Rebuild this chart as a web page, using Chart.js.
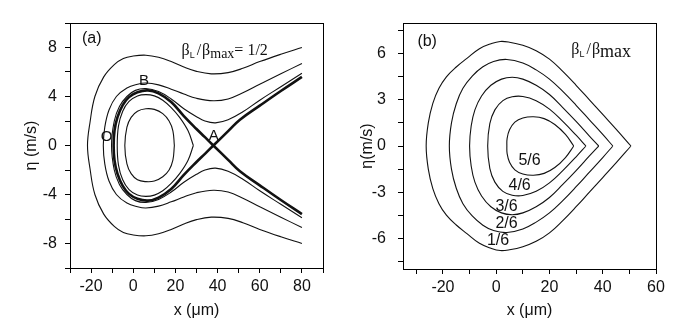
<!DOCTYPE html>
<html><head><meta charset="utf-8">
<script src="https://cdn.jsdelivr.net/npm/chart.js@4.4.1/dist/chart.umd.min.js"></script>
<style>
body{margin:0;background:#fff}
#wrap{position:relative;width:688px;height:335px;background:#fff}
canvas{position:absolute;top:0}
</style></head>
<body><div id="wrap">
<canvas id="ca" width="344" height="335" style="left:0;width:344px;height:335px"></canvas>
<canvas id="cb" width="344" height="335" style="left:344px;width:344px;height:335px"></canvas>
</div>
<script>
// ---------- Panel (a) data : [x (um), eta (m/s)] ----------
const aOuter = [[80,8.0],[70,7.45],[60,6.85],[52,6.3],[45,5.95],[37,5.85],[30,6.05],[24,6.4],[18,6.85],[12,7.2],[6,7.37],[0,7.3],[-4.7,7.1],[-9,6.6],[-14,5.6],[-18.2,4.0],[-20.5,1.9],[-21.7,0],
  [-20.5,-1.9],[-18.2,-4.0],[-14,-5.6],[-9,-6.6],[-4.7,-7.1],[0,-7.3],[6,-7.37],[12,-7.2],[18,-6.85],[24,-6.4],[30,-6.05],[37,-5.85],[45,-5.95],[52,-6.3],[60,-6.85],[70,-7.45],[80,-8.0]];
const aSecond = [[80,6.7],[70,5.85],[60,5.0],[52,4.3],[45,3.8],[38,3.65],[30,3.85],[24,4.2],[18,4.6],[12,4.95],[6,5.1],[2,5.0],[-3,4.7],[-8,4.0],[-11.5,2.9],[-13.5,1.5],[-14.2,0],
  [-13.5,-1.5],[-11.5,-2.9],[-8,-4.0],[-3,-4.7],[2,-5.0],[6,-5.1],[12,-4.95],[18,-4.6],[24,-4.2],[30,-3.85],[38,-3.65],[45,-3.8],[52,-4.3],[60,-5.0],[70,-5.85],[80,-6.7]];
const aThird = [[80,5.9],[70,4.8],[60,3.7],[52,2.75],[45,2.1],[39,1.85],[34,2.0],[30,2.35],[24,3.0],[18,3.8],[12,4.4],[6,4.65],[1,4.5],[-3,4.0],[-6.5,3.2],[-9,2.0],[-10.3,0],
  [-9,-2.0],[-6.5,-3.2],[-3,-4.0],[1,-4.5],[6,-4.65],[12,-4.4],[18,-3.8],[24,-3.0],[30,-2.35],[34,-2.0],[39,-1.85],[45,-2.1],[52,-2.75],[60,-3.7],[70,-4.8],[80,-5.9]];
const aSeparatrix = [[80,-5.6],[70,-4.45],[60,-3.25],[50.6,-2.1],[45,-1.17],[38,0],[34,0.68],[30,1.35],[24,2.4],[18,3.55],[12,4.25],[7,4.5],[2,4.35],[-2,3.95],[-5,3.3],[-7.5,2.3],[-8.9,1.2],[-9.3,0],
  [-8.9,-1.2],[-7.5,-2.3],[-5,-3.3],[-2,-3.95],[2,-4.35],[7,-4.5],[12,-4.25],[18,-3.55],[24,-2.4],[30,-1.35],[34,-0.68],[38,0],[45,1.17],[50.6,2.1],[60,3.25],[70,4.45],[80,5.6]];
const aClosed1 = [[28.5,0],[26,1.2],[22,2.3],[18,3.1],[14,3.7],[10,4.05],[6,4.15],[2,4.05],[-2,3.6],[-5,2.8],[-7,1.6],[-7.6,0],
  [-7,-1.6],[-5,-2.8],[-2,-3.6],[2,-4.05],[6,-4.15],[10,-4.05],[14,-3.7],[18,-3.1],[22,-2.3],[26,-1.2],[28.5,0]];
const aClosed2 = [[19.5,0],[18.8,1.2],[17,2.0],[14,2.6],[10,2.95],[6,3.0],[2,2.8],[-1,2.3],[-3,1.5],[-4,0],
  [-3,-1.5],[-1,-2.3],[2,-2.8],[6,-2.95],[10,-2.9],[14,-2.55],[17,-2.0],[18.8,-1.2],[19.5,0]];

const xTicksA = [-30,-20,-10,0,10,20,30,40,50,60,70,80,90];
const xLabelsA = [-20,0,20,40,60,80];
const yTicksA = [-10,-8,-6,-4,-2,0,2,4,6,8,10];
const yLabelsA = [-8,-4,0,4,8];

// ---------- Panel (b) data ----------
const b16 = [[50.6,0],[45,1.1],[40,2.05],[35,3.0],[30,3.95],[25,4.85],[20,5.65],[15,6.2],[10,6.55],[5,6.75],[1.5,6.8],[-2,6.65],[-6.3,6.33],[-11,5.7],[-15,5.14],[-18.7,4.5],[-21.5,3.75],[-23.8,2.77],[-25.5,1.5],[-26.3,0],
  [-25.5,-1.5],[-23.8,-2.77],[-21.5,-3.75],[-18.7,-4.5],[-15,-5.14],[-11,-5.7],[-6.3,-6.33],[-2,-6.65],[1.5,-6.8],[5,-6.75],[10,-6.55],[15,-6.2],[20,-5.65],[25,-4.85],[30,-3.95],[35,-3.0],[40,-2.05],[45,-1.1],[50.6,0]];
const b26 = [[43.8,0],[40,0.75],[35,1.7],[30,2.65],[25,3.55],[20,4.35],[15,4.95],[10,5.4],[4,5.63],[-1,5.5],[-5,5.15],[-9,4.55],[-12.5,3.75],[-15,2.75],[-16.8,1.5],[-17.6,0],
  [-16.8,-1.5],[-15,-2.75],[-12.5,-3.75],[-9,-4.55],[-5,-5.15],[-1,-5.5],[4,-5.63],[10,-5.4],[15,-4.95],[20,-4.35],[25,-3.55],[30,-2.65],[35,-1.7],[40,-0.75],[43.8,0]];
const b36 = [[38.5,0],[35,0.65],[30,1.6],[25,2.5],[20,3.35],[15,3.95],[10,4.35],[6,4.47],[2,4.35],[-2,3.95],[-5.5,3.25],[-8,2.35],[-9.4,1.3],[-10,0],
  [-9.4,-1.3],[-8,-2.35],[-5.5,-3.25],[-2,-3.95],[2,-4.35],[6,-4.47],[10,-4.35],[15,-3.95],[20,-3.35],[25,-2.5],[30,-1.6],[35,-0.65],[38.5,0]];
const b46 = [[33.7,0],[30,0.7],[25,1.6],[20,2.4],[15,2.95],[10,3.22],[6,3.2],[2.5,2.95],[-0.5,2.35],[-2.4,1.45],[-3.2,0],
  [-2.4,-1.45],[-0.5,-2.35],[2.5,-2.95],[6,-3.2],[10,-3.22],[15,-2.95],[20,-2.4],[25,-1.6],[30,-0.7],[33.7,0]];
const b56 = [[29.1,0],[26,0.75],[22,1.4],[18,1.78],[14,1.9],[10,1.82],[7,1.55],[5,1.05],[4.1,0.5],[4.0,0],
  [4.1,-0.5],[5,-1.05],[7,-1.55],[10,-1.82],[14,-1.9],[18,-1.78],[22,-1.4],[26,-0.75],[29.1,0]];
const bLevels = ['1/6','2/6','3/6','4/6','5/6'];

const xTicksB = [-30,-20,-10,0,10,20,30,40,50,60];
const xLabelsB = [-20,0,20,40,60];
const yTicksB = [-7.5,-6,-4.5,-3,-1.5,0,1.5,3,4.5,6,7.5];
const yLabelsB = [-6,-3,0,3,6];

// ---------- helpers ----------
const SANS = '"Liberation Sans", Arial, sans-serif';
const SERIF = '"Liberation Serif", "Times New Roman", serif';
const toPts = arr => arr.map(([x,y]) => ({x, y}));
const ds = (arr, w) => ({data: toPts(arr), showLine: true, borderColor: '#111', borderWidth: w,
  pointRadius: 0, tension: 0.4, fill: false});

const boxPlugin = {
  id: 'box',
  afterDraw(chart) {
    const {ctx, chartArea: a} = chart;
    ctx.save();
    ctx.strokeStyle = '#000'; ctx.lineWidth = 1;
    ctx.beginPath();
    ctx.moveTo(a.left, a.top + 0.5); ctx.lineTo(a.right + 0.5, a.top + 0.5);
    ctx.moveTo(a.right + 0.5, a.top); ctx.lineTo(a.right + 0.5, a.bottom);
    ctx.stroke();
    ctx.restore();
  }
};
const notesPlugin = {
  id: 'notes',
  afterDraw(chart, args, opts) {
    const {ctx, scales: {x, y}} = chart;
    ctx.save();
    ctx.fillStyle = '#111';
    for (const it of (opts.items || [])) {
      let px = x.getPixelForValue(it.x), py = y.getPixelForValue(it.y);
      ctx.textBaseline = it.baseline || 'middle';
      if (it.parts) {
        ctx.textAlign = 'left';
        for (const p of it.parts) {
          ctx.font = p.font;
          px += (p.dx || 0);
          ctx.fillText(p.t, px, py + (p.dy || 0));
          px += ctx.measureText(p.t).width;
        }
      } else {
        ctx.font = it.font;
        ctx.textAlign = it.align || 'center';
        ctx.fillText(it.text, px, py);
      }
    }
    ctx.restore();
  }
};

function axes(cfg) {
  const tickFont = {family: SANS, size: 16};
  return {
    x: {type: 'linear', min: cfg.xmin, max: cfg.xmax,
      afterBuildTicks: s => { s.ticks = cfg.xTicks.map(v => ({value: v})); },
      afterFit: s => { s.height = cfg.xh; },
      ticks: {autoSkip: false, maxRotation: 0, color: '#111', font: tickFont, padding: 4,
        callback: v => cfg.xLabels.includes(v) ? String(v) : ''},
      grid: {drawOnChartArea: false, drawTicks: true, tickLength: 5, color: '#000'},
      border: {display: true, color: '#000', width: 1},
      title: {display: true, text: 'x (μm)', color: '#111', font: {family: SANS, size: 16},
        padding: {top: 0, bottom: 15}}},
    y: {type: 'linear', min: cfg.ymin, max: cfg.ymax,
      afterBuildTicks: s => { s.ticks = cfg.yTicks.map(v => ({value: v})); },
      afterFit: s => { s.width = cfg.yw; },
      ticks: {autoSkip: false, color: '#111', font: tickFont, padding: cfg.ypad,
        callback: v => cfg.yLabels.includes(v) ? String(v) : ''},
      grid: {drawOnChartArea: false, drawTicks: true, tickLength: 5, color: '#000'},
      border: {display: true, color: '#000', width: 1},
      title: {display: true, text: cfg.ytitle, color: '#111', font: {family: SANS, size: 16},
        padding: {top: cfg.ytp, bottom: 0}}}
  };
}

// ---------- Panel (a) ----------
new Chart(document.getElementById('ca'), {
  type: 'scatter',
  data: {datasets: [ds(aOuter,1.1), ds(aSecond,1.1), ds(aThird,1.1), ds(aSeparatrix,2.6), ds(aClosed1,1.1), ds(aClosed2,1.1)]},
  options: {
    responsive: false, animation: false, devicePixelRatio: 1,
    layout: {padding: {left: 0, right: 21, top: 23, bottom: 0}},
    plugins: {legend: {display: false}, tooltip: {enabled: false},
      notes: {items: [
        {text: '(a)', x: -24.3, y: 8.7, font: '16px ' + SANS, align: 'left'},
        {text: 'B', x: 5.1, y: 5.25, font: '15px ' + SANS},
        {text: 'O', x: -12.7, y: 0.7, font: '15px ' + SANS},
        {text: 'A', x: 38.2, y: 0.75, font: '15px ' + SANS},
        {x: 22.9, y: 7.4, baseline: 'alphabetic', parts: [
          {t: 'β', font: '16px ' + SERIF},
          {t: 'L', font: '9px ' + SANS, dy: 3},
          {t: '/', font: '16px ' + SERIF, dx: 2},
          {t: 'β', font: '16px ' + SERIF, dx: 1},
          {t: 'max', font: '14px ' + SERIF, dy: 3.5},
          {t: '= 1/2', font: '16px ' + SERIF}]}
      ]}},
    scales: axes({xmin: -30, xmax: 90, ymin: -10, ymax: 10, xTicks: xTicksA, xLabels: xLabelsA,
      yTicks: yTicksA, yLabels: yLabelsA, xh: 67, yw: 70, ypad: 8, ytp: 22, ytitle: 'η (m/s)'})
  },
  plugins: [boxPlugin, notesPlugin]
});

// ---------- Panel (b) ----------
new Chart(document.getElementById('cb'), {
  type: 'scatter',
  data: {datasets: [ds(b16,1.1), ds(b26,1.1), ds(b36,1.1), ds(b46,1.1), ds(b56,1.1)]},
  options: {
    responsive: false, animation: false, devicePixelRatio: 1,
    layout: {padding: {left: 0, right: 32, top: 23, bottom: 0}},
    plugins: {legend: {display: false}, tooltip: {enabled: false},
      notes: {items: [
        {text: '(b)', x: -29.6, y: 6.77, font: '16px ' + SANS, align: 'left'},
        {text: bLevels[4], x: 12.5, y: -0.97, font: '16px ' + SANS},
        {text: bLevels[3], x: 8.8, y: -2.6, font: '16px ' + SANS},
        {text: bLevels[2], x: 3.9, y: -3.92, font: '16px ' + SANS},
        {text: bLevels[1], x: 3.9, y: -5.02, font: '16px ' + SANS},
        {text: bLevels[0], x: 0.7, y: -6.16, font: '16px ' + SANS},
        {x: 28.2, y: 6.0, baseline: 'alphabetic', parts: [
          {t: 'β', font: '16px ' + SERIF},
          {t: 'L', font: '9px ' + SANS, dy: 3},
          {t: '/', font: '16px ' + SERIF, dx: 2},
          {t: 'β', font: '16px ' + SERIF, dx: 1},
          {t: 'max', font: '18px ' + SERIF, dy: 3.5}]}
      ]}},
    scales: axes({xmin: -35, xmax: 60, ymin: -8, ymax: 8, xTicks: xTicksB, xLabels: xLabelsB,
      yTicks: yTicksB, yLabels: yLabelsB, xh: 66, yw: 59, ypad: 12, ytp: 14, ytitle: 'η(m/s)'})
  },
  plugins: [boxPlugin, notesPlugin]
});
</script>
</body></html>
